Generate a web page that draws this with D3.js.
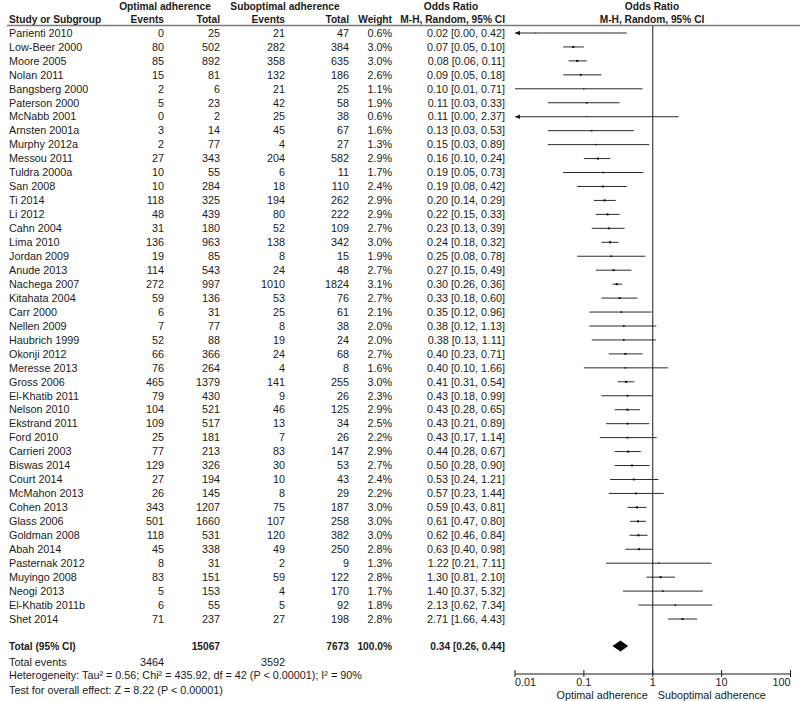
<!DOCTYPE html>
<html>
<head>
<meta charset="utf-8">
<script src="https://cdn.jsdelivr.net/npm/d3@7"></script>
<style>
  body { margin: 0; background: #fff; }
  svg text { font-family: "Liberation Sans", Arial, sans-serif; font-size: 10.8px; fill: #1a1a1a; }
  svg text.bold { font-weight: bold; font-size: 10.2px; }
</style>
</head>
<body>
<svg id="chart" width="800" height="701"></svg>
<script>
// study rows
const studies = ['Parienti 2010','Low-Beer 2000','Moore 2005','Nolan 2011','Bangsberg 2000','Paterson 2000',
  'McNabb 2001','Arnsten 2001a','Murphy 2012a','Messou 2011','Tuldra 2000a','San 2008','Ti 2014','Li 2012',
  'Cahn 2004','Lima 2010','Jordan 2009','Anude 2013','Nachega 2007','Kitahata 2004','Carr 2000','Nellen 2009',
  'Haubrich 1999','Okonji 2012','Meresse 2013','Gross 2006','El-Khatib 2011','Nelson 2010','Ekstrand 2011',
  'Ford 2010','Carrieri 2003','Biswas 2014','Court 2014','McMahon 2013','Cohen 2013','Glass 2006','Goldman 2008',
  'Abah 2014','Pasternak 2012','Muyingo 2008','Neogi 2013','El-Khatib 2011b','Shet 2014'];
const optEvents = [0,80,85,15,2,5,0,3,2,27,10,10,118,48,31,136,19,114,272,59,6,7,52,66,76,465,79,104,109,25,77,129,27,26,343,501,118,45,8,83,5,6,71];
const optTotal = [25,502,892,81,6,23,2,14,77,343,55,284,325,439,180,963,85,543,997,136,31,77,88,366,264,1379,430,521,517,181,213,326,194,145,1207,1660,531,338,31,151,153,55,237];
const subEvents = [21,282,358,132,21,42,25,45,4,204,6,18,194,80,52,138,8,24,1010,53,25,8,19,24,4,141,9,46,13,7,83,30,10,8,75,107,120,49,2,59,4,5,27];
const subTotal = [47,384,635,186,25,58,38,67,27,582,11,110,262,222,109,342,15,48,1824,76,61,38,24,68,8,255,26,125,34,26,147,53,43,29,187,258,382,250,9,122,170,92,198];
const weights = [0.6,3.0,3.0,2.6,1.1,1.9,0.6,1.6,1.3,2.9,1.7,2.4,2.9,2.9,2.7,3.0,1.9,2.7,3.1,2.7,2.1,2.0,2.0,2.7,1.6,3.0,2.3,2.9,2.5,2.2,2.9,2.7,2.4,2.2,3.0,3.0,3.0,2.8,1.3,2.8,1.7,1.8,2.8];
const oddsRatio = [0.02,0.07,0.08,0.09,0.10,0.11,0.11,0.13,0.15,0.16,0.19,0.19,0.20,0.22,0.23,0.24,0.25,0.27,0.30,0.33,0.35,0.38,0.38,0.40,0.40,0.41,0.43,0.43,0.43,0.43,0.44,0.50,0.53,0.57,0.59,0.61,0.62,0.63,1.22,1.30,1.40,2.13,2.71];
const ciLow = [0.00,0.05,0.06,0.05,0.01,0.03,0.00,0.03,0.03,0.10,0.05,0.08,0.14,0.15,0.13,0.18,0.08,0.15,0.26,0.18,0.12,0.12,0.13,0.23,0.10,0.31,0.18,0.28,0.21,0.17,0.28,0.28,0.24,0.23,0.43,0.47,0.46,0.40,0.21,0.81,0.37,0.62,1.66];
const ciHigh = [0.42,0.10,0.11,0.18,0.71,0.33,2.37,0.53,0.89,0.24,0.73,0.42,0.29,0.33,0.39,0.32,0.78,0.49,0.36,0.60,0.96,1.13,1.11,0.71,1.66,0.54,0.99,0.65,0.89,1.14,0.67,0.90,1.21,1.44,0.81,0.80,0.84,0.98,7.11,2.10,5.32,7.34,4.43];

// pooled result
const pooled = { or: 0.34, lo: 0.26, hi: 0.44, optTotal: 15067, subTotal: 7673, weight: '100.0%', optEvents: 3464, subEvents: 3592 };
const axisTicks = [0.01, 0.1, 1, 10, 100];
const tickLabels = ['0.01', '0.1', '1', '10', '100'];
const heterogeneity = 'Heterogeneity: Tau\u00B2 = 0.56; Chi\u00B2 = 435.92, df = 42 (P < 0.00001); I\u00B2 = 90%';
const overallEffect = 'Test for overall effect: Z = 8.22 (P < 0.00001)';

const svg = d3.select('#chart');
const f2 = d3.format('.2f');
const ciText = (o, l, h) => `${f2(o)} [${f2(l)}, ${f2(h)}]`;

const x = d3.scaleLog().domain([0.01, 100]).range([515, 790.5]);
const y = d3.scaleLinear().domain([0, studies.length - 1]).range([33, 619]);
const totalY = 646, axisY = 674;

// columns (right edges)
const col = { name: 9, optE: 164, optT: 220, subE: 285, subT: 349, weight: 392, ci: 505 };

// headers
const header = svg.append('g').attr('class', 'header');
[
  { t: 'Optimal adherence', x: 165, y: 6, a: 'middle' },
  { t: 'Suboptimal adherence', x: 285, y: 6, a: 'middle' },
  { t: 'Odds Ratio', x: 451, y: 6, a: 'middle' },
  { t: 'Odds Ratio', x: 652, y: 6, a: 'middle' },
  { t: 'Study or Subgroup', x: col.name, y: 19, a: 'start' },
  { t: 'Events', x: col.optE, y: 19, a: 'end' },
  { t: 'Total', x: col.optT, y: 19, a: 'end' },
  { t: 'Events', x: col.subE, y: 19, a: 'end' },
  { t: 'Total', x: col.subT, y: 19, a: 'end' },
  { t: 'Weight', x: col.weight, y: 19, a: 'end' },
  { t: 'M-H, Random, 95% CI', x: col.ci, y: 19, a: 'end' },
  { t: 'M-H, Random, 95% CI', x: 652, y: 19, a: 'middle' }
].forEach(h => {
  header.append('text').attr('class', 'bold')
    .attr('x', h.x).attr('y', h.y).attr('dy', '0.35em')
    .attr('text-anchor', h.a).text(h.t);
});
header.append('line')
  .attr('x1', 7).attr('x2', 800).attr('y1', 25.5).attr('y2', 25.5)
  .style('stroke', '#7a7a7a').style('stroke-width', 1.5);

// study rows
const rows = svg.append('g').selectAll('g.row').data(studies).enter()
  .append('g').attr('class', 'row')
  .attr('transform', (d, i) => `translate(0,${y(i)})`);

const cell = (sel, xPos, anchor, fn) => sel.append('text')
  .attr('x', xPos).attr('dy', '0.35em').attr('text-anchor', anchor).text(fn);

rows.call(cell, col.name, 'start', d => d);
rows.call(cell, col.optE, 'end', (d, i) => optEvents[i]);
rows.call(cell, col.optT, 'end', (d, i) => optTotal[i]);
rows.call(cell, col.subE, 'end', (d, i) => subEvents[i]);
rows.call(cell, col.subT, 'end', (d, i) => subTotal[i]);
rows.call(cell, col.weight, 'end', (d, i) => f2(weights[i]).slice(0, -1) + '%');
rows.call(cell, col.ci, 'end', (d, i) => ciText(oddsRatio[i], ciLow[i], ciHigh[i]));

// null line
svg.append('line')
  .attr('x1', x(1)).attr('x2', x(1)).attr('y1', 26).attr('y2', axisY)
  .style('stroke', '#1a1a1a').style('stroke-width', 1);

// CI lines
const [xMin, xMax] = x.domain();
rows.append('line')
  .attr('x1', (d, i) => x(Math.max(ciLow[i], xMin)))
  .attr('x2', (d, i) => x(Math.min(ciHigh[i], xMax)))
  .style('stroke', '#2a2a2a').style('stroke-width', 1);

// arrows for CIs beyond the axis
rows.filter((d, i) => ciLow[i] < xMin)
  .append('path')
  .attr('d', () => { const x0 = x(xMin); return `M${x0},0L${x0 + 5},-2.2L${x0 + 5},2.2Z`; })
  .style('fill', '#1a1a1a');

// point estimates, size by weight
const half = w => Math.sqrt(w) * 0.6;
rows.append('rect')
  .attr('x', (d, i) => x(oddsRatio[i]) - half(weights[i]))
  .attr('y', (d, i) => -half(weights[i]))
  .attr('width', (d, i) => half(weights[i]) * 2)
  .attr('height', (d, i) => half(weights[i]) * 2)
  .style('fill', '#111');

// total row
const total = svg.append('g').attr('transform', `translate(0,${totalY})`);
[
  { t: 'Total (95% CI)', x: col.name, a: 'start' },
  { t: pooled.optTotal, x: col.optT, a: 'end' },
  { t: pooled.subTotal, x: col.subT, a: 'end' },
  { t: pooled.weight, x: col.weight, a: 'end' },
  { t: ciText(pooled.or, pooled.lo, pooled.hi), x: col.ci, a: 'end' }
].forEach(c => {
  total.append('text').attr('class', 'bold')
    .attr('x', c.x).attr('dy', '0.35em').attr('text-anchor', c.a).text(c.t);
});
total.append('path')
  .attr('d', `M${x(pooled.lo)},0L${x(pooled.or)},-5.5L${x(pooled.hi)},0L${x(pooled.or)},5.5Z`)
  .style('fill', '#000');

// footer text
const foot = svg.append('g');
foot.append('text').attr('x', col.name).attr('y', 662).attr('dy', '0.35em').text('Total events');
foot.append('text').attr('x', col.optE).attr('y', 662).attr('dy', '0.35em').attr('text-anchor', 'end').text(pooled.optEvents);
foot.append('text').attr('x', col.subE).attr('y', 662).attr('dy', '0.35em').attr('text-anchor', 'end').text(pooled.subEvents);
foot.append('text').attr('x', col.name).attr('y', 675.5).attr('dy', '0.35em').text(heterogeneity);
foot.append('text').attr('x', col.name).attr('y', 690).attr('dy', '0.35em').text(overallEffect);

// axis
const axis = svg.append('g').attr('transform', `translate(0,${axisY})`);
axis.append('line')
  .attr('x1', x(xMin)).attr('x2', x(xMax))
  .style('stroke', '#1a1a1a').style('stroke-width', 1);
axis.selectAll('line.tick').data(axisTicks).enter()
  .append('line').attr('class', 'tick')
  .attr('x1', d => x(d)).attr('x2', d => x(d))
  .attr('y1', -4).attr('y2', 3)
  .style('stroke', '#1a1a1a').style('stroke-width', 1);
axis.selectAll('text.tick').data(axisTicks).enter()
  .append('text').attr('class', 'tick')
  .attr('x', d => x(d)).attr('y', 8.5).attr('dy', '0.35em')
  .attr('text-anchor', (d, i) => i === 0 ? 'start' : i === axisTicks.length - 1 ? 'end' : 'middle')
  .text((d, i) => tickLabels[i]);
axis.append('text').attr('x', x(1) - 5).attr('y', 21.5).attr('dy', '0.35em')
  .attr('text-anchor', 'end').text('Optimal adherence');
axis.append('text').attr('x', x(1) + 5).attr('y', 21.5).attr('dy', '0.35em')
  .attr('text-anchor', 'start').text('Suboptimal adherence');
</script>
</body>
</html>
